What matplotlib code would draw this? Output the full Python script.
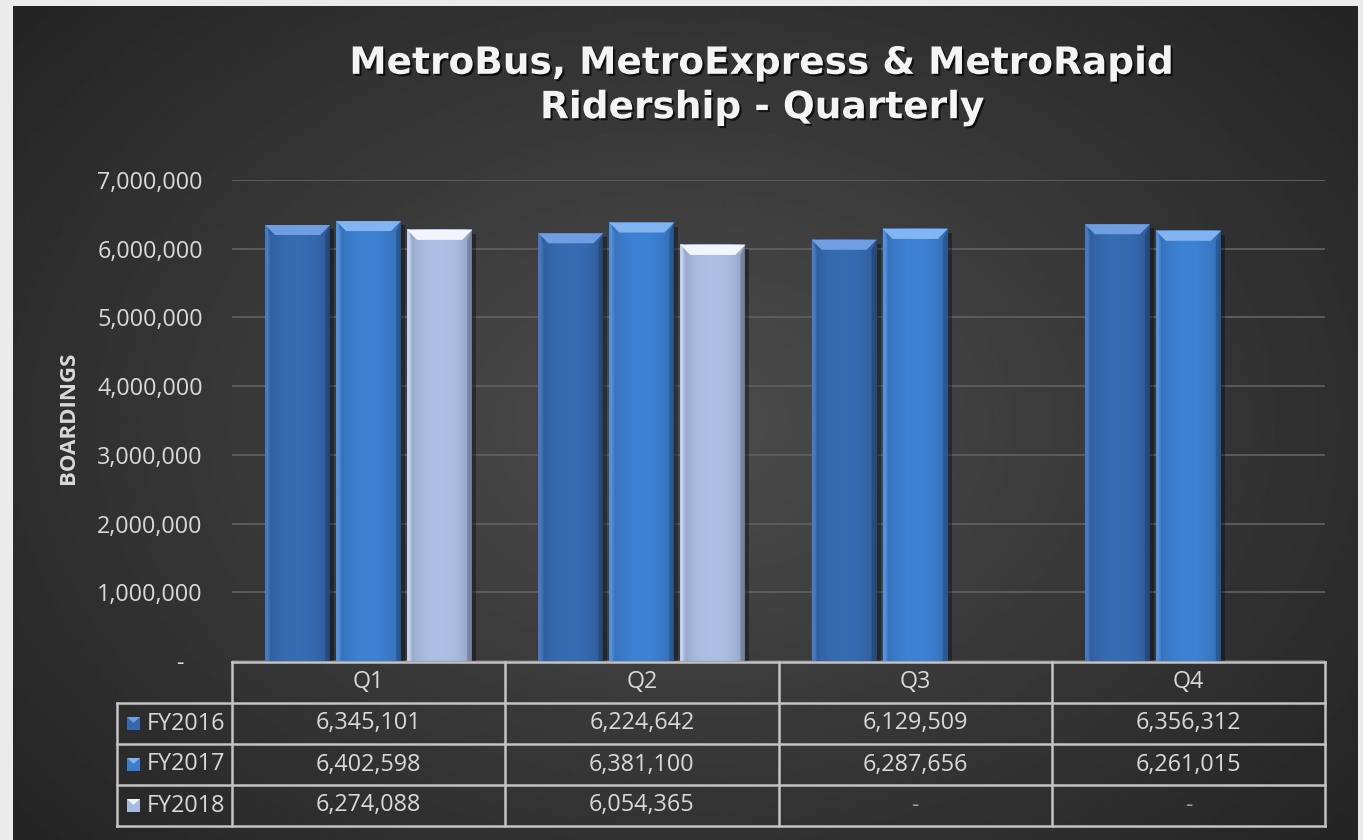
import matplotlib
matplotlib.use('Agg')
import matplotlib.pyplot as plt
import matplotlib.patheffects as pe
from matplotlib.patches import Polygon, Rectangle
from matplotlib.colors import to_rgb
from matplotlib.ticker import FuncFormatter
import numpy as np

# data
quarters = ['Q1', 'Q2', 'Q3', 'Q4']
series_names = ['FY2016', 'FY2017', 'FY2018']
fy2016 = [6345101, 6224642, 6129509, 6356312]
fy2017 = [6402598, 6381100, 6287656, 6261015]
fy2018 = [6274088, 6054365, None, None]
y_ticks = [0, 1000000, 2000000, 3000000, 4000000, 5000000, 6000000, 7000000]

title = 'MetroBus, MetroExpress & MetroRapid\nRidership - Quarterly'
y_label = 'BOARDINGS'

series = [fy2016, fy2017, fy2018]
base_colors = ['#3568ad', '#3b7dcc', '#a6b9de']
top_colors = ['#6f9fe2', '#82b4f2', '#f2f5fc']
txt_color = '#d9d9d9'
font = 'Open Sans'
fs = 16.8

W, H = 1363, 840
fig = plt.figure(figsize=(W / 100, H / 100), dpi=100)
fig.patch.set_facecolor('#ebebeb')


def px(x0, y0, x1, y1):
    # pixel box -> figure rect
    return [x0 / W, 1 - y1 / H, (x1 - x0) / W, (y1 - y0) / H]


# dark background panel with radial shading
bg = fig.add_axes(px(13, 6, 1358, 840))
yy, xx = np.mgrid[0:1:300j, 0:1:500j]
r = np.sqrt(((xx - 0.5) / 0.65) ** 2 + ((yy - 0.5) / 0.75) ** 2)
shade = np.clip(0.30 - 0.155 * r, 0.135, 0.3)
bg.imshow(shade, cmap='gray', vmin=0, vmax=1, extent=[0, 1, 0, 1], aspect='auto')
bg.axis('off')

# main plot
ax = fig.add_axes(px(232, 180, 1325, 661))
ax.patch.set_alpha(0)
for s in ax.spines.values():
    s.set_visible(False)

colw_px = (1325 - 232) / 4.0
ypx = 481 / 7e6  # pixels per boarding


def draw_bar(xc, w, h, base, top):
    x0, x1 = xc - w / 2, xc + w / 2
    # soft shadow
    ax.add_patch(Rectangle((x0 + 4 / colw_px, 0), w, h - 4 / ypx, color='black',
                           alpha=0.35, lw=0, zorder=2))
    b = np.array(to_rgb(base))
    t = np.linspace(0, 1, 80)
    prof = 0.80 + 0.24 * np.sin(np.pi * t) ** 0.5
    prof[:4] = 1.08
    img = np.clip(b[None, :] * prof[:, None], 0, 1)[None, :, :]
    ax.imshow(img, extent=[x0, x1, 0, h], aspect='auto', zorder=3,
              interpolation='bilinear')
    bx = 10 / colw_px
    by = 10 / ypx
    ax.add_patch(Polygon([[x0, h], [x1, h], [x1 - bx, h - by], [x0 + bx, h - by]],
                         closed=True, color=top, lw=0, zorder=4))
    # left/right bevels
    ax.add_patch(Polygon([[x0, h], [x0 + bx * 0.5, h - by], [x0 + bx * 0.5, 0], [x0, 0]],
                         closed=True, color=top, alpha=0.25, lw=0, zorder=4))
    ax.add_patch(Polygon([[x1, h], [x1 - bx * 0.5, h - by], [x1 - bx * 0.5, 0], [x1, 0]],
                         closed=True, color='black', alpha=0.18, lw=0, zorder=4))


bar_w = 65 / colw_px
step = 71 / colw_px
for i, vals in enumerate(series):
    for j, v in enumerate(vals):
        if v is None:
            continue
        draw_bar(j + (i - 1) * step, bar_w, v, base_colors[i], top_colors[i])

ax.set_xlim(-0.5, 3.5)
ax.set_ylim(0, 7e6)
ax.set_xticks([])
ax.set_yticks(y_ticks)
ax.yaxis.set_major_formatter(FuncFormatter(lambda v, p: '-   ' if v == 0 else f'{int(v):,}'))
ax.tick_params(axis='y', length=0, pad=21, labelsize=fs, labelcolor=txt_color)
for lab in ax.get_yticklabels():
    lab.set_fontfamily(font)
ax.yaxis.grid(True, color='#5c5c5c', lw=1.4, zorder=1)
ax.set_axisbelow(True)

fig.text(68 / W, 1 - 418 / H, y_label, rotation=90, ha='center', va='center',
         fontsize=16, fontweight='bold', color=txt_color, family=font)

fig.text(762 / W, 1 - 86 / H, title, ha='center', va='center', ma='center',
         fontsize=27, fontweight='bold', color='#f4f4f4', family='DejaVu Sans',
         linespacing=1.3,
         path_effects=[pe.SimplePatchShadow(offset=(1.5, -1.5), shadow_rgbFace='black', alpha=0.7),
                       pe.Normal()])

# data table
tax = fig.add_axes(px(232, 662, 1325, 826))
tax.set_xlim(-0.5, 3.5)
tax.set_ylim(4, 0)
tax.axis('off')
lc = '#c4c4c4'
lw = 1.8
x_left = -0.5 - (232 - 117) / colw_px
tax.plot([-0.5, 3.5], [0, 0], color=lc, lw=lw, clip_on=False)
for k in range(1, 5):
    tax.plot([x_left, 3.5], [k, k], color=lc, lw=lw, clip_on=False)
tax.plot([x_left, x_left], [1, 4], color=lc, lw=lw, clip_on=False)
for k in range(5):
    tax.plot([k - 0.5, k - 0.5], [0, 4], color=lc, lw=lw, clip_on=False)

for j, q in enumerate(quarters):
    tax.text(j, 0.5, q, ha='center', va='center', fontsize=fs, color=txt_color, family=font)

key_w = 13 / colw_px
key_h = 13 / 41.0
key_x = -0.5 + (127 - 232) / colw_px
for i, (name, vals) in enumerate(zip(series_names, series)):
    row = i + 1.5
    tax.add_patch(Rectangle((key_x, row - key_h / 2), key_w, key_h, color=base_colors[i],
                            lw=0, clip_on=False))
    tax.add_patch(Polygon([[key_x, row - key_h / 2], [key_x + key_w, row - key_h / 2],
                           [key_x + key_w * 0.5, row - key_h * 0.05]],
                          closed=True, color=top_colors[i], lw=0, clip_on=False))
    tax.text(-0.5 + (147 - 232) / colw_px, row, name, ha='left', va='center',
             fontsize=fs, color=txt_color, family=font, clip_on=False)
    for j, v in enumerate(vals):
        s = f'{v:,}' if v is not None else '-'
        tax.text(j, row, s, ha='center', va='center', fontsize=fs,
                 color=txt_color if v is not None else '#9a9a9a', family=font)

fig.savefig('out.png', dpi=100, facecolor=fig.get_facecolor())
